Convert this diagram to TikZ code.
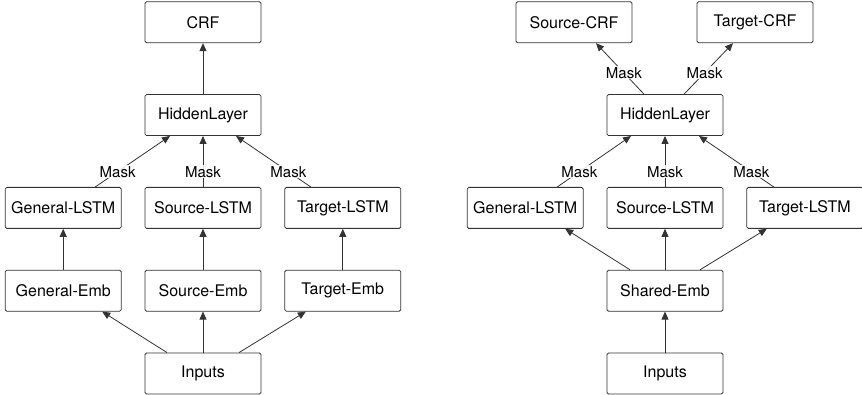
\documentclass[tikz,border=0pt]{standalone}
\usepackage{fontspec}
\setmainfont{TeX Gyre Heros}
\usepackage{tikz}
\usetikzlibrary{positioning,arrows.meta}

\tikzset{
  layer/.style={draw=black!80, line width=0.8pt, rounded corners=1.5pt,
                minimum width=116pt, minimum height=41pt, inner sep=0pt,
                font=\fontsize{16}{19}\selectfont},
  mask/.style={fill=white, fill opacity=0.85, text opacity=1, inner sep=1pt,
               font=\fontsize{15}{18}\selectfont},
  flow/.style={->, draw=black!80, line width=0.8pt}
}

\begin{document}
\begin{tikzpicture}[x=1pt, y=1pt, >={Triangle[length=8pt,width=7pt]},
                    node distance=41pt and 23pt]
\useasboundingbox (0,0) rectangle (862,395);

% left model: separate embeddings
\node[layer] (lin) at (203,21.5) {Inputs};
\node[layer, above=of lin] (lsemb) {Source-Emb};
\node[layer, left=of lsemb] (lgemb) {General-Emb};
\node[layer, right=of lsemb] (ltemb) {Target-Emb};
\node[layer, above=of lsemb] (lslstm) {Source-LSTM};
\node[layer, above=of lgemb] (lglstm) {General-LSTM};
\node[layer, above=of ltemb] (ltlstm) {Target-LSTM};
\node[layer, above=51pt of lslstm] (lhid) {HiddenLayer};
\node[layer, above=51pt of lhid] (lcrf) {CRF};

\draw[flow] ([xshift=-36pt]lin.north) -- ([xshift=39pt]lgemb.south);
\draw[flow] (lin) -- (lsemb);
\draw[flow] ([xshift=36pt]lin.north) -- ([xshift=-37pt]ltemb.south);
\draw[flow] (lgemb) -- (lglstm);
\draw[flow] (lsemb) -- (lslstm);
\draw[flow] (ltemb) -- (ltlstm);
\draw[flow] ([xshift=32pt]lglstm.north) -- node[mask, pos=0.3] {Mask} ([xshift=-33pt]lhid.south);
\draw[flow] (lslstm) -- node[mask, pos=0.3] {Mask} (lhid);
\draw[flow] ([xshift=-32pt]ltlstm.north) -- node[mask, pos=0.3] {Mask} ([xshift=33pt]lhid.south);
\draw[flow] (lhid) -- (lcrf);

% right model: shared embedding, two CRFs
\node[layer] (rin) at (665,21.5) {Inputs};
\node[layer, above=of rin] (remb) {Shared-Emb};
\node[layer, above=of remb] (rslstm) {Source-LSTM};
\node[layer, left=of rslstm] (rglstm) {General-LSTM};
\node[layer, right=of rslstm] (rtlstm) {Target-LSTM};
\node[layer, above=51pt of rslstm] (rhid) {HiddenLayer};
\node[layer, above=51pt of rhid, xshift=-91pt] (rscrf) {Source-CRF};
\node[layer, above=51pt of rhid, xshift=90pt] (rtcrf) {Target-CRF};

\draw[flow] (rin) -- (remb);
\draw[flow] ([xshift=-35pt]remb.north) -- ([xshift=40pt]rglstm.south);
\draw[flow] (remb) -- (rslstm);
\draw[flow] ([xshift=35pt]remb.north) -- ([xshift=-38pt]rtlstm.south);
\draw[flow] ([xshift=32pt]rglstm.north) -- node[mask, pos=0.3] {Mask} ([xshift=-34pt]rhid.south);
\draw[flow] (rslstm) -- node[mask, pos=0.3] {Mask} (rhid);
\draw[flow] ([xshift=-31pt]rtlstm.north) -- node[mask, pos=0.3] {Mask} ([xshift=34pt]rhid.south);
\draw[flow] ([xshift=-21pt]rhid.north) -- node[mask, pos=0.42] {Mask} ([xshift=22pt]rscrf.south);
\draw[flow] ([xshift=19pt]rhid.north) -- node[mask, pos=0.42] {Mask} ([xshift=-22pt]rtcrf.south);
\end{tikzpicture}
\end{document}
